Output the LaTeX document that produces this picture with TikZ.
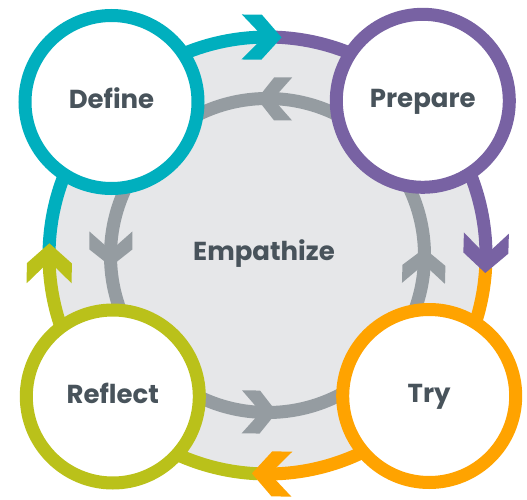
\documentclass[tikz,border=0pt]{standalone}
\usepackage{fontspec}
\setmainfont{Poppins}
\usetikzlibrary{calc}
\definecolor{cteal}{RGB}{0,175,190}
\definecolor{cpurple}{RGB}{120,98,163}
\definecolor{corange}{RGB}{255,163,0}
\definecolor{cgreen}{RGB}{186,193,26}
\definecolor{cgray}{RGB}{149,156,161}
\definecolor{cdisc}{RGB}{230,231,233}
\definecolor{ctext}{RGB}{72,83,91}
\newcommand\colchev[3]{% color, tip angle, heading
  \fill[#1, shift={(C)}, shift={(#2:218.5)}, rotate=#3]
    (0,0) -- (-20,22.5) -- (-40,22.5) -- (-18,0) -- (-40,-22.5) -- (-20,-22.5) -- cycle;}
\newcommand\graychev[2]{% tip angle, heading
  \fill[cgray, shift={(C)}, shift={(#1:157)}, rotate=#2]
    (0,0) -- (-17,21.5) -- (-35,21.5) -- (-16,0) -- (-35,-21.5) -- (-17,-21.5) -- cycle;}
\newcommand\outarc[3]{% color, start, end
  \draw[#1, line width=13pt] ($(C)+(#2:218.5)$) arc[start angle=#2, end angle=#3, radius=218.5];}
\tikzset{
  ring/.style={circle, draw=#1, fill=white, line width=13pt, minimum size=173pt, inner sep=0pt},
  lbl/.style={font=\bfseries\fontsize{26}{30}\selectfont, text=ctext, inner sep=0pt,
    text height=18.5pt, text depth=0pt}
}
\begin{document}
\begin{tikzpicture}[x=1pt,y=1pt]
\useasboundingbox (0,0) rectangle (527,499);
\coordinate (C) at (267.5,243.5);
\fill[cdisc] (C) circle[radius=219];
% inner gray cycle
\draw[cgray, line width=13pt] (C) circle[radius=157];
\graychev{93.8}{179.8}
\graychev{2.6}{88.6}
\graychev{184}{270}
\graychev{273.4}{359.4}
% outer coloured cycle
\outarc{cteal}{178.3}{90}
\outarc{cpurple}{87.8}{-0.9}
\outarc{corange}{-3.1}{-90.4}
\outarc{cgreen}{267.4}{180.5}
\colchev{cteal}{86.3}{-0.7}
\colchev{cpurple}{-4.6}{-91.6}
\colchev{corange}{-94.1}{-181.1}
\colchev{cgreen}{176.8}{89.8}
% stage nodes
\node[ring=cteal] (def) at (111.5,397) {};
\node[ring=cpurple] (pre) at (422.8,398.2) {};
\node[ring=cgreen] (ref) at (112.8,102.5) {};
\node[ring=corange] (try) at (429.2,103) {};
\node[lbl] (tdef) at ([yshift=3pt]def.center) {Define};
\node[lbl] (tpre) at ([yshift=3pt]pre.center) {Prepare};
\node[lbl] (tref) at ([yshift=2pt]ref.center) {Reflect};
\node[lbl] (ttry) at ([yshift=2.5pt]try.center) {Try};
\node[lbl] (emp) at (264,247.3) {Empathize};
\end{tikzpicture}
\end{document}
